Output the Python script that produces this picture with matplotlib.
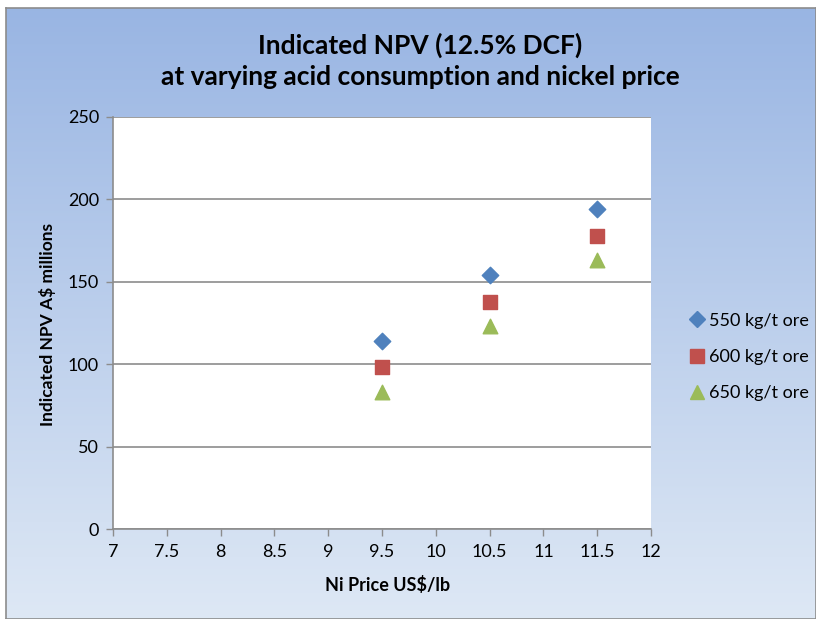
import matplotlib
matplotlib.use("Agg")
import matplotlib.pyplot as plt
import numpy as np
from matplotlib.lines import Line2D

# ── Data ──────────────────────────────────────────────────────────────────────
ni_price = [9.5, 10.5, 11.5]
npv_550 = [114, 154, 194]
npv_600 = [98, 138, 178]
npv_650 = [83, 123, 163]
series_labels = ["550 kg/t ore", "600 kg/t ore", "650 kg/t ore"]
x_ticks = [7, 7.5, 8, 8.5, 9, 9.5, 10, 10.5, 11, 11.5, 12]
y_ticks = [0, 50, 100, 150, 200, 250]

FONT = ["Lato", "DejaVu Sans"]
plt.rcParams["font.family"] = FONT

W, H = 816, 619
fig = plt.figure(figsize=(W / 100, H / 100), dpi=100)

# ── Gradient chart background with thin grey border ──────────────────────────
bg = fig.add_axes([6 / W, 0, 1 - 6 / W, 1 - 8 / H])
top = np.array([0.60, 0.71, 0.89])
bot = np.array([0.87, 0.91, 0.96])
t = np.linspace(0, 1, 256)[:, None]
grad = top * (1 - t) + bot * t
bg.imshow(grad[:, None, :].repeat(2, axis=1), aspect="auto", extent=[0, 1, 0, 1])
bg.set_xticks([])
bg.set_yticks([])
for s in bg.spines.values():
    s.set_color("#8c8c8c")
    s.set_linewidth(1.2)
bg.set_zorder(0)

# ── Plot area ────────────────────────────────────────────────────────────────
x0, x1, y0, y1 = 113, 651, 529, 117
ax = fig.add_axes([x0 / W, 1 - y0 / H, (x1 - x0) / W, (y0 - y1) / H])
ax.set_zorder(1)
ax.set_facecolor("white")

ax.scatter(ni_price, npv_550, marker="D", s=70, color="#4F81BD", zorder=3,
           label=series_labels[0])
ax.scatter(ni_price, npv_600, marker="s", s=95, color="#C0504D", zorder=3,
           label=series_labels[1])
ax.scatter(ni_price, npv_650, marker="^", s=110, color="#9BBB59", zorder=3,
           label=series_labels[2])

ax.set_xlim(7, 12)
ax.set_ylim(0, 250)
ax.set_xticks(x_ticks)
ax.set_xticklabels([f"{v:g}" for v in x_ticks])
ax.set_yticks(y_ticks)
ax.yaxis.grid(True, color="#8c8c8c", linewidth=1.2)
ax.set_axisbelow(True)
for side in ["top", "right"]:
    ax.spines[side].set_visible(False)
for side in ["left", "bottom"]:
    ax.spines[side].set_color("#8c8c8c")
    ax.spines[side].set_linewidth(1.2)
ax.tick_params(axis="both", direction="out", length=5, color="#8c8c8c",
               labelsize=13, width=1.0)
ax.tick_params(axis="x", pad=6)
ax.tick_params(axis="y", pad=5)

ax.set_xlabel("Ni Price US$/lb", fontsize=13, fontweight="bold")
ax.set_ylabel("Indicated NPV A$ millions", fontsize=12.5, fontweight="bold")
ax.xaxis.set_label_coords((388 - x0) / (x1 - x0), -(585 - y0) / (y0 - y1))
ax.yaxis.set_label_coords(-(x0 - 48) / (x1 - x0), (y0 - 324) / (y0 - y1))
ax.xaxis.label.set_va("center")
ax.yaxis.label.set_va("center")

fig.text(420 / W, 1 - 45 / H, "Indicated NPV (12.5% DCF)", ha="center",
         va="center", fontsize=19, fontweight="bold")
fig.text(420 / W, 1 - 77 / H, "at varying acid consumption and nickel price",
         ha="center", va="center", fontsize=19, fontweight="bold")

handles = [
    Line2D([], [], marker="D", linestyle="", color="#4F81BD", markersize=8),
    Line2D([], [], marker="s", linestyle="", color="#C0504D", markersize=10),
    Line2D([], [], marker="^", linestyle="", color="#9BBB59", markersize=10),
]
fig.legend(handles, series_labels, loc="center left",
           bbox_to_anchor=(670 / W, 1 - 357 / H), frameon=False,
           fontsize=13, handletextpad=0.05, labelspacing=1.12,
           handlelength=1.2)

fig.savefig("out.png", dpi=100)
